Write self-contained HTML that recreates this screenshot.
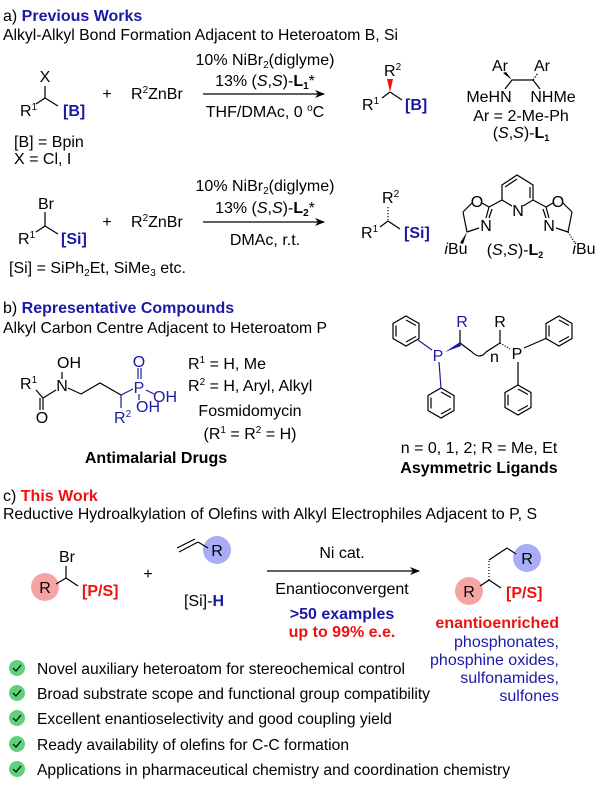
<!DOCTYPE html>
<html><head><meta charset="utf-8"><style>
html,body{margin:0;padding:0;background:#fff}
svg{display:block}
text{font-family:"Liberation Sans",Arial,sans-serif;font-size:16px;fill:#000}
.b{font-weight:bold}
.blue{fill:#1a1aa6}
.red{fill:#f01010}
.c{text-anchor:middle}
.r{text-anchor:end}
line,polyline,polygon.ring{stroke:#000;stroke-width:1.2;fill:none}
.bl line,.bl polyline,.bl polygon{stroke:#1a1aa6}
</style></head><body>
<svg width="600" height="786" viewBox="0 0 600 786" xmlns="http://www.w3.org/2000/svg">
<defs>
<g id="hex"><polygon class="ring" points="0,-15 13,-7.5 13,7.5 0,15 -13,7.5 -13,-7.5"/><line x1="0" y1="-11" x2="10" y2="-5.5"/><line x1="10" y1="5.5" x2="0" y2="11"/><line x1="-10" y1="5.5" x2="-10" y2="-5.5"/></g>
<marker id="ah" markerWidth="10" markerHeight="8" refX="9" refY="4" orient="auto" markerUnits="userSpaceOnUse"><path d="M0,0 L10,4 L0,8 L3,4z" fill="#000"/></marker>
</defs>

<!-- a -->
<text x="3" y="21">a) <tspan class="b blue">Previous Works</tspan></text>
<text x="3" y="40" textLength="395" lengthAdjust="spacingAndGlyphs">Alkyl-Alkyl Bond Formation Adjacent to Heteroatom B, Si</text>

<text x="45" y="82" class="c">X</text>
<line x1="45" y1="86" x2="45" y2="98"/><line x1="45" y1="98" x2="36" y2="104"/><line x1="45" y1="98" x2="58" y2="106"/>
<text x="20" y="116">R<tspan font-size="10" dy="-6">1</tspan></text>
<text x="63" y="116" class="b blue">[B]</text>
<text x="107" y="99" class="c">+</text>
<text x="131" y="99">R<tspan font-size="10" dy="-6">2</tspan><tspan dy="6">ZnBr</tspan></text>
<text x="265" y="65" class="c">10% NiBr<tspan font-size="10" dy="3">2</tspan><tspan dy="-3">(diglyme)</tspan></text>
<text x="265" y="86" class="c">13% (<tspan font-style="italic">S</tspan>,<tspan font-style="italic">S</tspan>)-<tspan class="b">L<tspan font-size="10" dy="3">1</tspan></tspan><tspan dy="-3">*</tspan></text>
<line x1="203" y1="94" x2="324" y2="94" marker-end="url(#ah)"/>
<text x="265" y="117" class="c">THF/DMAc, 0 <tspan font-size="10" dy="-6">o</tspan><tspan dy="6">C</tspan></text>

<text x="384" y="76">R<tspan font-size="10" dy="-6">2</tspan></text>
<polygon points="390,92 387,79 393,79" fill="#f01010"/>
<line x1="390" y1="92" x2="382" y2="98"/><line x1="390" y1="92" x2="402" y2="100"/>
<text x="362" y="110">R<tspan font-size="10" dy="-6">1</tspan></text>
<text x="405" y="110" class="b blue">[B]</text>

<text x="500" y="71" class="c" font-size="14">Ar</text><text x="542" y="71" class="c" font-size="14">Ar</text>
<line x1="512" y1="80" x2="533" y2="80"/><polygon points="512,80 503,73 506,72" fill="#000"/><line x1="533" y1="80" x2="538" y2="73" stroke-dasharray="1.5,1.5"/>
<line x1="512" y1="80" x2="505" y2="89"/><line x1="533" y1="80" x2="540" y2="89"/>
<text x="489" y="102" class="c" font-size="14">MeHN</text><text x="553" y="102" class="c" font-size="14">NHMe</text>
<text x="521" y="121" class="c" font-size="14">Ar = 2-Me-Ph</text>
<text x="521" y="138" class="c" font-size="14">(<tspan font-style="italic">S</tspan>,<tspan font-style="italic">S</tspan>)-<tspan class="b">L<tspan font-size="9" dy="3">1</tspan></tspan></text>

<text x="14" y="147">[B] = Bpin</text>
<text x="14" y="164">X = Cl, I</text>

<text x="46" y="209" class="c">Br</text>
<line x1="45" y1="212" x2="45" y2="226"/><line x1="45" y1="226" x2="36" y2="232"/><line x1="45" y1="226" x2="58" y2="234"/>
<text x="18" y="244">R<tspan font-size="10" dy="-6">1</tspan></text>
<text x="61" y="244" class="b blue">[Si]</text>
<text x="107" y="227" class="c">+</text>
<text x="131" y="227">R<tspan font-size="10" dy="-6">2</tspan><tspan dy="6">ZnBr</tspan></text>
<text x="265" y="191" class="c">10% NiBr<tspan font-size="10" dy="3">2</tspan><tspan dy="-3">(diglyme)</tspan></text>
<text x="265" y="213" class="c">13% (<tspan font-style="italic">S</tspan>,<tspan font-style="italic">S</tspan>)-<tspan class="b">L<tspan font-size="10" dy="3">2</tspan></tspan><tspan dy="-3">*</tspan></text>
<line x1="203" y1="222" x2="324" y2="222" marker-end="url(#ah)"/>
<text x="265" y="245" class="c">DMAc, r.t.</text>

<text x="382" y="203">R<tspan font-size="10" dy="-6">2</tspan></text>
<line x1="388" y1="207" x2="388" y2="220" stroke="#f01010" stroke-width="2.5" stroke-dasharray="1.2,1.8"/>
<line x1="388" y1="221" x2="380" y2="227"/><line x1="388" y1="221" x2="400" y2="229"/>
<text x="361" y="238">R<tspan font-size="10" dy="-6">1</tspan></text>
<text x="404" y="238" class="b blue">[Si]</text>

<!-- L2 -->
<polyline points="502,200 502,185 517,175 533,185 533,200"/>
<line x1="505" y1="187" x2="517" y2="179"/><line x1="530" y1="187" x2="530" y2="198"/>
<line x1="502" y1="200" x2="512" y2="206"/><line x1="533" y1="200" x2="523" y2="206"/>
<text x="518" y="216" class="c" font-size="13">N</text>
<line x1="502" y1="200" x2="489" y2="207"/><line x1="533" y1="200" x2="546" y2="207"/>
<text x="477" y="207" class="c" font-size="13">O</text><text x="558" y="207" class="c" font-size="13">O</text>
<line x1="489" y1="207" x2="482" y2="203"/><line x1="472" y1="203" x2="463" y2="212"/><line x1="463" y1="212" x2="467" y2="232"/><line x1="467" y1="232" x2="479" y2="228"/>
<line x1="489" y1="207" x2="486" y2="218"/><line x1="492" y1="209" x2="489" y2="218"/>
<text x="486" y="231" class="c" font-size="13">N</text>
<polygon points="467,232 460,243 463,244" fill="#000"/>
<text x="456" y="254" class="c" font-size="13"><tspan font-style="italic">i</tspan>Bu</text>
<line x1="546" y1="207" x2="553" y2="203"/><line x1="563" y1="203" x2="572" y2="212"/><line x1="572" y1="212" x2="568" y2="232"/><line x1="568" y1="232" x2="556" y2="228"/>
<line x1="546" y1="207" x2="549" y2="218"/><line x1="543" y1="209" x2="546" y2="218"/>
<text x="549" y="231" class="c" font-size="13">N</text>
<line x1="568" y1="232" x2="575" y2="243" stroke-dasharray="1.2,1.5" stroke-width="2"/>
<text x="584" y="254" class="c" font-size="13"><tspan font-style="italic">i</tspan>Bu</text>
<text x="515" y="255" class="c" font-size="14">(<tspan font-style="italic">S</tspan>,<tspan font-style="italic">S</tspan>)-<tspan class="b">L<tspan font-size="9" dy="3">2</tspan></tspan></text>

<text x="9" y="273">[Si] = SiPh<tspan font-size="10" dy="3">2</tspan><tspan dy="-3">Et, SiMe</tspan><tspan font-size="10" dy="3">3</tspan><tspan dy="-3"> etc.</tspan></text>

<!-- b -->
<text x="3" y="313">b) <tspan class="b blue">Representative Compounds</tspan></text>
<text x="3" y="333" textLength="324" lengthAdjust="spacingAndGlyphs">Alkyl Carbon Centre Adjacent to Heteroatom P</text>

<text x="20" y="389">R<tspan font-size="10" dy="-6">1</tspan></text>
<line x1="36" y1="390" x2="43" y2="398"/><line x1="43" y1="398" x2="56" y2="390"/>
<line x1="43" y1="398" x2="43" y2="410"/><line x1="40" y1="398" x2="40" y2="410"/>
<text x="42" y="423" class="c">O</text>
<text x="62" y="391" class="c">N</text>
<text x="69" y="368" class="c">OH</text>
<line x1="62" y1="372" x2="62" y2="379"/>
<polyline points="68,388 81,394 100,383 121,395"/>
<g class="bl">
<line x1="121" y1="395" x2="133" y2="389"/><line x1="121" y1="395" x2="121" y2="408"/>
<line x1="138" y1="368" x2="138" y2="379"/><line x1="141" y1="368" x2="141" y2="379"/>
<line x1="146" y1="390" x2="154" y2="394"/><line x1="139" y1="394" x2="139" y2="400"/>
</g>
<text x="139" y="367" class="c blue">O</text>
<text x="139" y="393" class="c blue">P</text>
<text x="165" y="402" class="c blue">OH</text>
<text x="148" y="412" class="c blue">OH</text>
<text x="114" y="423" class="blue">R<tspan font-size="10" dy="-6">2</tspan></text>
<text x="188" y="369">R<tspan font-size="10" dy="-6">1</tspan><tspan dy="6"> = H, Me</tspan></text>
<text x="188" y="391">R<tspan font-size="10" dy="-6">2</tspan><tspan dy="6"> = H, Aryl, Alkyl</tspan></text>
<text x="250" y="416" class="c">Fosmidomycin</text>
<text x="250" y="439" class="c">(R<tspan font-size="10" dy="-6">1</tspan><tspan dy="6"> = R</tspan><tspan font-size="10" dy="-6">2</tspan><tspan dy="6"> = H)</tspan></text>
<text x="156" y="463" class="c b">Antimalarial Drugs</text>

<!-- ligand -->
<g class="bl">
<use href="#hex" x="406" y="331"/><use href="#hex" x="441" y="403"/>
<line x1="418" y1="340" x2="432" y2="350"/><line x1="439" y1="362" x2="441" y2="388"/>
</g>
<text x="438" y="361" class="c blue">P</text>
<polygon points="445,352 460,342 461,346" fill="#1a1aa6"/>
<line x1="460" y1="343" x2="460" y2="330" stroke="#1a1aa6" stroke-width="1.2"/>
<text x="462" y="327" class="c blue">R</text>
<path d="M460,343 L472,352 Q480,360 486,352 L500,343" fill="none" stroke="#000" stroke-width="1.2"/>
<text x="490" y="362" font-size="11">n</text>
<line x1="500" y1="343" x2="500" y2="330"/>
<text x="500" y="327" class="c">R</text>
<line x1="500" y1="343" x2="510" y2="349" stroke-dasharray="1.2,1.5" stroke-width="2"/>
<text x="517" y="359" class="c">P</text>
<use href="#hex" x="559" y="331"/><use href="#hex" x="518" y="400"/>
<line x1="524" y1="348" x2="547" y2="338"/><line x1="518" y1="362" x2="518" y2="385"/>
<text x="479" y="453" class="c">n = 0, 1, 2; R = Me, Et</text>
<text x="479" y="473" class="c b">Asymmetric Ligands</text>

<!-- c -->
<text x="3" y="501">c) <tspan class="b red">This Work</tspan></text>
<text x="3" y="519" textLength="534" lengthAdjust="spacingAndGlyphs">Reductive Hydroalkylation of Olefins with Alkyl Electrophiles Adjacent to P, S</text>

<circle cx="45" cy="587" r="14" fill="#f5a3a3"/>
<circle cx="217" cy="550" r="14" fill="#a9adf5"/>
<circle cx="469" cy="591" r="14" fill="#f5a3a3"/>
<circle cx="527" cy="558" r="14" fill="#a9adf5"/>

<text x="67" y="562" class="c">Br</text>
<line x1="66" y1="566" x2="66" y2="578"/><line x1="66" y1="578" x2="56" y2="584"/><line x1="66" y1="578" x2="78" y2="586"/>
<text x="45" y="593" class="c">R</text>
<text x="82" y="596" class="b red">[P/S]</text>
<text x="148" y="579" class="c">+</text>
<line x1="179" y1="552" x2="198" y2="542"/><line x1="177" y1="548" x2="195" y2="539"/><line x1="198" y1="542" x2="208" y2="548"/>
<text x="217" y="556" class="c">R</text>
<text x="204" y="606" class="c">[Si]-<tspan class="b blue">H</tspan></text>
<text x="342" y="558" class="c">Ni cat.</text>
<line x1="267" y1="571" x2="419" y2="571" marker-end="url(#ah)"/>
<text x="342" y="594" class="c">Enantioconvergent</text>
<text x="342" y="619" class="c b blue">&gt;50 examples</text>
<text x="342" y="637" class="c b red">up to 99% e.e.</text>

<line x1="489" y1="580" x2="489" y2="560" stroke="#000" stroke-width="3" stroke-dasharray="1,2"/>
<line x1="489" y1="560" x2="507" y2="548"/><line x1="507" y1="548" x2="516" y2="554"/>
<line x1="489" y1="580" x2="480" y2="586"/><line x1="489" y1="580" x2="501" y2="588"/>
<text x="527" y="564" class="c">R</text>
<text x="469" y="597" class="c">R</text>
<text x="506" y="598" class="b red">[P/S]</text>
<text x="559" y="628" class="r b red">enantioenriched</text>
<text x="559" y="647" class="r blue">phosphonates,</text>
<text x="559" y="665" class="r blue">phosphine oxides,</text>
<text x="559" y="683" class="r blue">sulfonamides,</text>
<text x="559" y="701" class="r blue">sulfones</text>

<g>
<circle cx="17" cy="668" r="8" fill="#5ed17a"/><polyline points="13,668 16,671 21,665" stroke="#fff" stroke-width="1.8"/>
<circle cx="17" cy="693" r="8" fill="#5ed17a"/><polyline points="13,693 16,696 21,690" stroke="#fff" stroke-width="1.8"/>
<circle cx="17" cy="718" r="8" fill="#5ed17a"/><polyline points="13,718 16,721 21,715" stroke="#fff" stroke-width="1.8"/>
<circle cx="17" cy="744" r="8" fill="#5ed17a"/><polyline points="13,744 16,747 21,741" stroke="#fff" stroke-width="1.8"/>
<circle cx="17" cy="769" r="8" fill="#5ed17a"/><polyline points="13,769 16,772 21,766" stroke="#fff" stroke-width="1.8"/>
</g>
<text x="37" y="674" textLength="368" lengthAdjust="spacingAndGlyphs">Novel auxiliary heteroatom for stereochemical control</text>
<text x="37" y="699" textLength="393" lengthAdjust="spacingAndGlyphs">Broad substrate scope and functional group compatibility</text>
<text x="37" y="724" textLength="355" lengthAdjust="spacingAndGlyphs">Excellent enantioselectivity and good coupling yield</text>
<text x="37" y="750" textLength="312" lengthAdjust="spacingAndGlyphs">Ready availability of olefins for C-C formation</text>
<text x="37" y="775" textLength="473" lengthAdjust="spacingAndGlyphs">Applications in pharmaceutical chemistry and coordination chemistry</text>
</svg>
</body></html>
